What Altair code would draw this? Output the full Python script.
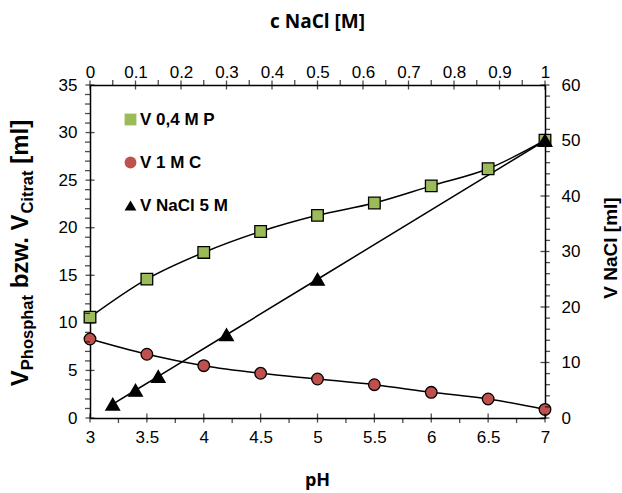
import altair as alt
import pandas as pd

# ---- data ----
ph = [3, 3.5, 4, 4.5, 5, 5.5, 6, 6.5, 7]
v_phosphat = [10.6, 14.6, 17.4, 19.6, 21.3, 22.6, 24.4, 26.2, 29.2]
v_citrat = [8.3, 6.7, 5.5, 4.7, 4.1, 3.5, 2.7, 2.0, 0.9]
c_nacl = [0.05, 0.1, 0.15, 0.3, 0.5, 1.0]
v_nacl = [2.5, 5, 7.5, 15, 25, 50]

series_names = ["V 0,4 M P", "V 1 M C", "V NaCl 5 M"]
series_fill = ["#9BBB59", "#C0504D", "#000000"]
series_shape = ["square", "circle", "triangle-up"]

ph_major = [3, 3.5, 4, 4.5, 5, 5.5, 6, 6.5, 7]
ph_minor = [3.25, 3.75, 4.25, 4.75, 5.25, 5.75, 6.25, 6.75]
c_major = [0, 0.1, 0.2, 0.3, 0.4, 0.5, 0.6, 0.7, 0.8, 0.9, 1]
c_minor = [0.05, 0.15, 0.25, 0.35, 0.45, 0.55, 0.65, 0.75, 0.85, 0.95]
yl_major = [0, 5, 10, 15, 20, 25, 30, 35]
yl_minor = [v for v in range(0, 36) if v % 5 != 0]
yr_major = [0, 10, 20, 30, 40, 50, 60]
yr_minor = [v for v in range(0, 61, 2) if v % 10 != 0]

W, H = 455, 333
FONT = "Liberation Sans"

def sc(lo, hi):
    return alt.Scale(domain=[lo, hi], nice=False, zero=False)

legend = alt.Legend(title=None, orient="none", legendX=32, legendY=26,
                    symbolSize=140, symbolStrokeColor="black", symbolStrokeWidth=1.2,
                    labelFont=FONT, labelFontSize=17, labelFontWeight="bold",
                    labelColor="black", rowPadding=25, labelOffset=1, padding=0)
fill_enc = alt.Fill("series:N", scale=alt.Scale(domain=series_names, range=series_fill), legend=legend)
shape_enc = alt.Shape("series:N", scale=alt.Scale(domain=series_names, range=series_shape), legend=legend)

def axis(orient, values, pad, fmt):
    return alt.Axis(orient=orient, values=values, ticks=False, grid=False, title=None,
                    domain=True, domainColor="black", domainWidth=1.5, labelFont=FONT,
                    labelFontSize=17, labelColor="black", labelPadding=pad,
                    labelFlush=False, labelOverlap=False, format=fmt)

df_a = pd.DataFrame({
    "pH": ph + ph,
    "V": v_phosphat + v_citrat,
    "series": [series_names[0]] * len(ph) + [series_names[1]] * len(ph),
})
df_b = pd.DataFrame({"c": c_nacl, "V": v_nacl, "series": [series_names[2]] * len(c_nacl)})

lines_a = alt.Chart(df_a).mark_line(color="black", strokeWidth=1.5, interpolate="catmull-rom").encode(
    x=alt.X("pH:Q", scale=sc(3, 7), axis=axis("bottom", ph_major, 11, "~g")),
    y=alt.Y("V:Q", scale=sc(0, 35), axis=axis("left", yl_major, 13, "d")),
    detail="series:N",
)
pts_a = alt.Chart(df_a).mark_point(filled=False, stroke="black", strokeWidth=1.3, opacity=1,
                                   fillOpacity=1, size=135).encode(
    x=alt.X("pH:Q", scale=sc(3, 7), axis=None),
    y=alt.Y("V:Q", scale=sc(0, 35), axis=None),
    fill=fill_enc, shape=shape_enc,
    stroke=alt.value("black"), strokeWidth=alt.value(1.3), strokeOpacity=alt.value(1),
)
lines_b = alt.Chart(df_b).mark_line(color="black", strokeWidth=1.5).encode(
    x=alt.X("c:Q", scale=sc(0, 1), axis=axis("top", c_major, 4, "~g")),
    y=alt.Y("V:Q", scale=sc(0, 60), axis=axis("right", yr_major, 16, "d")),
)
pts_b = alt.Chart(df_b).mark_point(filled=False, stroke="black", strokeWidth=1.3, opacity=1,
                                   fillOpacity=1, size=185).encode(
    x=alt.X("c:Q", scale=sc(0, 1), axis=None),
    y=alt.Y("V:Q", scale=sc(0, 60), axis=None),
    fill=fill_enc, shape=shape_enc,
    stroke=alt.value("black"), strokeWidth=alt.value(1.3), strokeOpacity=alt.value(1),
)

def xticks(vals, lo, hi, ypos, size):
    return alt.Chart(pd.DataFrame({"t": vals})).mark_tick(color="black", thickness=1.3, size=size).encode(
        x=alt.X("t:Q", scale=sc(lo, hi), axis=None), y=alt.value(ypos))

def yticks(vals, lo, hi, xpos, size):
    return alt.Chart(pd.DataFrame({"t": vals})).mark_tick(color="black", thickness=1.3, size=size).encode(
        y=alt.Y("t:Q", scale=sc(lo, hi), axis=None), x=alt.value(xpos))

# left title with subscripts (Arial-bold advance widths)
AW = {" ": 278, ".": 278, "[": 333, "]": 333, "V": 667, "P": 667, "C": 722, "b": 611,
      "z": 500, "w": 778, "h": 611, "o": 611, "s": 556, "p": 611, "a": 556, "t": 333,
      "i": 278, "r": 389, "m": 889, "l": 278}
MAIN, SUB = 24, 16.5
segs = [("V", MAIN, 0), ("Phosphat", SUB, 0), ("bzw. V", MAIN, 0.278 * MAIN),
        ("Citrat", SUB, 0), ("[ml]", MAIN, 0.278 * MAIN)]

def wid(s, fs):
    return sum(AW[ch] for ch in s) / 1000 * fs

total = sum(wid(s, fs) + gap for s, fs, gap in segs)
pos = 168 + total / 2
one = pd.DataFrame({"k": [0]})
title_layers = []
for s, fs, gap in segs:
    pos -= gap
    title_layers.append(alt.Chart(one).mark_text(
        text=s, font=FONT, fontSize=fs, fontWeight="bold", angle=270, align="left",
        baseline="alphabetic", color="black").encode(
        x=alt.value(-62 if fs == MAIN else -57.5), y=alt.value(pos)))
    pos -= wid(s, fs)

def label(txt, x, y, fs, font, angle=0):
    return alt.Chart(one).mark_text(text=txt, font=font, fontSize=fs, fontWeight="bold",
                                    angle=angle, align="center", baseline="alphabetic",
                                    color="black").encode(x=alt.value(x), y=alt.value(y))

chart = alt.layer(
    lines_a, lines_b, pts_a, pts_b,
    xticks(ph_major, 3, 7, H, 9), xticks(ph_minor, 3, 7, H + 2.5, 5),
    yticks(yl_major, 0, 35, 0, 9), yticks(yl_minor, 0, 35, -2.5, 5),
    xticks(c_major, 0, 1, 0, 9), xticks(c_minor, 0, 1, -2.5, 5),
    yticks(yr_major, 0, 60, W, 9), yticks(yr_minor, 0, 60, W + 2.5, 5),
    *title_layers,
    label("pH", W / 2, 401, 18, "Open Sans"),
    label("c NaCl [M]", W / 2, -57, 19, "Open Sans"),
    label("V NaCl [ml]", 527, 163, 19, FONT, angle=270),
).resolve_scale(x="independent", y="independent").properties(
    width=W, height=H,
    autosize=alt.AutoSizeParams(type="none"),
    padding={"left": 90, "top": 85, "right": 77, "bottom": 75},
    background="white",
).configure_view(strokeWidth=0)

chart.save("out.html", embed_options={"renderer": "svg", "actions": False})
